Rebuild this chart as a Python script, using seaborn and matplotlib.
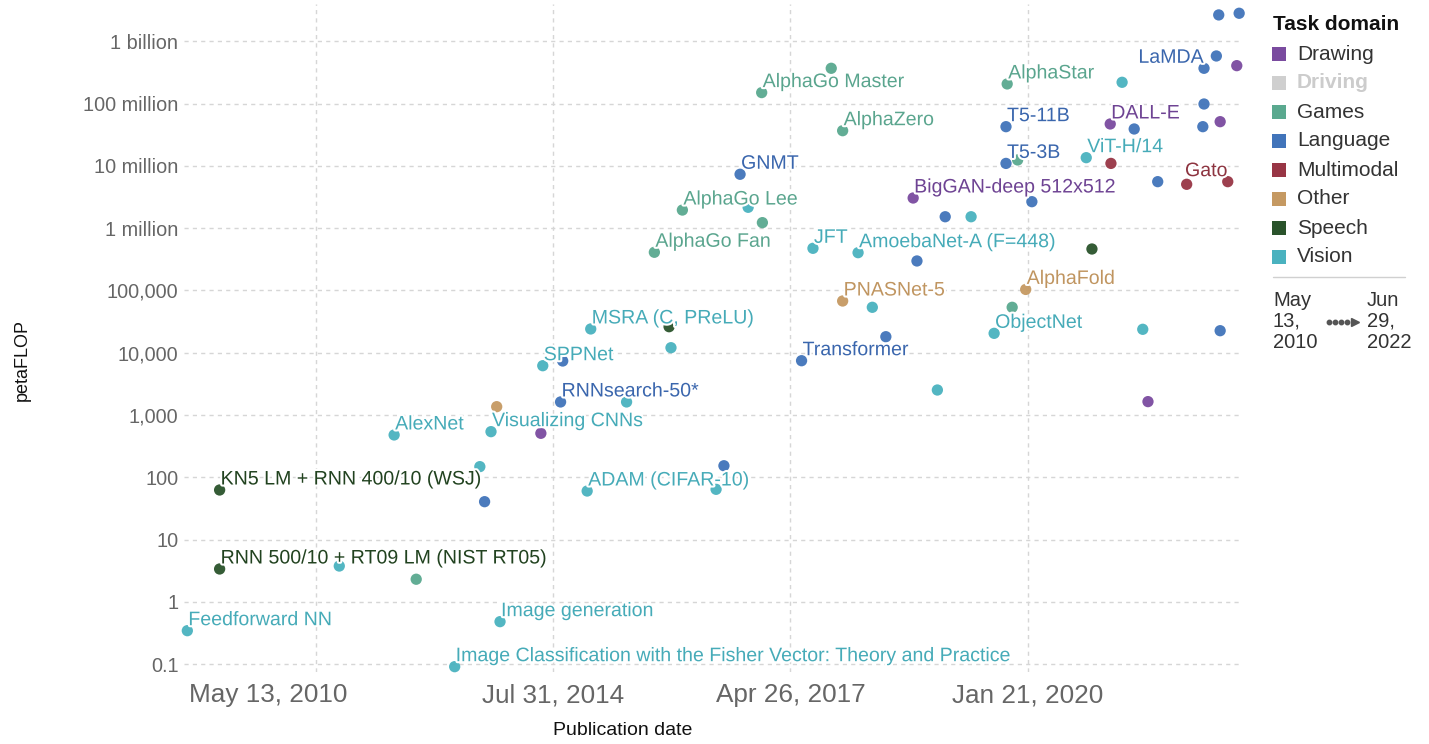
import numpy as np
import pandas as pd
import matplotlib
matplotlib.use("Agg")
import matplotlib.pyplot as plt
import matplotlib.patheffects as pe
from matplotlib.patches import Rectangle
from matplotlib.lines import Line2D
import seaborn as sns

sns.set_theme(style="white")
plt.rcParams["font.family"] = ["Liberation Sans", "DejaVu Sans"]

# ---- data: notable AI systems, training compute ----
dates = [
    "2010-05-13", "2010-09-26", "2010-09-26", "2012-02-12", "2012-09-30",
    "2013-01-01", "2013-06-12", "2013-09-26", "2013-10-16", "2013-11-12",
    "2013-12-06", "2013-12-20", "2014-06-10", "2014-06-18", "2014-09-01",
    "2014-09-10", "2014-12-22", "2015-01-06", "2015-06-06", "2015-10-01",
    "2015-12-02", "2015-12-10", "2016-01-27", "2016-06-17", "2016-07-20",
    "2016-09-26", "2016-10-30", "2016-12-26", "2016-12-29", "2017-06-12",
    "2017-07-30", "2017-10-15", "2017-12-02", "2017-12-02", "2018-02-05",
    "2018-04-06", "2018-06-02", "2018-09-25", "2018-10-11", "2019-01-05",
    "2019-02-07", "2019-05-27", "2019-09-01", "2019-10-21", "2019-10-21",
    "2019-10-26", "2019-11-16", "2019-12-09", "2020-01-12", "2020-02-07",
    "2020-09-23", "2020-10-17", "2021-01-02", "2021-01-05", "2021-02-21",
    "2021-04-13", "2021-05-19", "2021-06-10", "2021-07-21", "2021-11-20",
    "2022-01-27", "2022-02-01", "2022-02-01", "2022-03-25", "2022-04-04",
    "2022-04-10", "2022-04-10", "2022-05-12", "2022-06-19", "2022-06-29",
]
petaflop = [
    0.343, 62.4, 3.36, 3.75, 478,
    2.30, 0.0906, 148, 40.5, 540,
    1360, 0.479, 508, 6190, 1620,
    7370, 60.1, 24100, 1620, 4.11e5,
    26200, 12050, 1.96e6, 64, 153,
    7.36e6, 2.17e6, 1.51e8, 1.23e6, 7450,
    4.76e5, 3.71e8, 3.69e7, 67800, 4.05e5,
    53700, 18100, 3.06e6, 2.98e5, 2520,
    1.53e6, 1.53e6, 20500, 4.28e7, 1.10e7,
    2.08e8, 53700, 1.25e7, 1.04e5, 2.67e6,
    1.36e7, 4.64e5, 4.73e7, 1.10e7, 2.21e8,
    3.93e7, 23800, 1640, 5.60e6, 5.08e6,
    4.28e7, 3.71e8, 9.9e7, 5.85e8, 2.67e9,
    5.15e7, 22600, 5.60e6, 4.09e8, 2.84e9,
]
domain = [
    "Vision", "Speech", "Speech", "Vision", "Vision",
    "Games", "Vision", "Vision", "Language", "Vision",
    "Other", "Vision", "Drawing", "Vision", "Language",
    "Language", "Vision", "Vision", "Vision", "Games",
    "Speech", "Vision", "Games", "Vision", "Language",
    "Language", "Vision", "Games", "Games", "Language",
    "Vision", "Games", "Games", "Other", "Vision",
    "Vision", "Language", "Drawing", "Language", "Vision",
    "Language", "Vision", "Vision", "Language", "Language",
    "Games", "Games", "Games", "Other", "Language",
    "Vision", "Speech", "Drawing", "Multimodal", "Vision",
    "Language", "Vision", "Drawing", "Language", "Multimodal",
    "Language", "Language", "Language", "Language", "Language",
    "Drawing", "Language", "Multimodal", "Drawing", "Language",
]
system = [
    "Feedforward NN", "KN5 LM + RNN 400/10 (WSJ)", "RNN 500/10 + RT09 LM (NIST RT05)", "", "AlexNet",
    "", "Image Classification with the Fisher Vector: Theory and Practice", "", "", "Visualizing CNNs",
    "", "Image generation", "", "SPPNet", "RNNsearch-50*",
    "", "ADAM (CIFAR-10)", "MSRA (C, PReLU)", "", "AlphaGo Fan",
    "", "", "AlphaGo Lee", "", "",
    "GNMT", "", "AlphaGo Master", "", "Transformer",
    "JFT", "", "AlphaZero", "PNASNet-5", "AmoebaNet-A (F=448)",
    "", "", "BigGAN-deep 512x512", "", "",
    "", "", "ObjectNet", "T5-11B", "T5-3B",
    "AlphaStar", "", "", "AlphaFold", "",
    "ViT-H/14", "", "DALL-E", "", "",
    "", "", "", "", "",
    "", "LaMDA", "", "", "",
    "", "", "Gato", "", "",
]

domains = ["Drawing", "Driving", "Games", "Language", "Multimodal", "Other", "Speech", "Vision"]
palette = {
    "Drawing": "#7a4b9f",
    "Driving": "#cfcfcf",
    "Games": "#5aa98f",
    "Language": "#4174ba",
    "Multimodal": "#983545",
    "Other": "#c59962",
    "Speech": "#2a532b",
    "Vision": "#4ab2bf",
}
label_colors = {
    "Drawing": "#6e4393",
    "Driving": "#bbbbbb",
    "Games": "#5aa58e",
    "Language": "#3a66ad",
    "Multimodal": "#8d3440",
    "Other": "#c09560",
    "Speech": "#21421f",
    "Vision": "#46abb8",
}

y_ticks = [0.1, 1, 10, 100, 1e3, 1e4, 1e5, 1e6, 1e7, 1e8, 1e9]
y_tick_labels = ["0.1", "1", "10", "100", "1,000", "10,000", "100,000",
                 "1 million", "10 million", "100 million", "1 billion"]
x_ticks = ["2011-11-04", "2014-07-31", "2017-04-26", "2020-01-21"]
x_tick_labels = ["", "Jul 31, 2014", "Apr 26, 2017", "Jan 21, 2020"]
range_start = "May 13, 2010"
range_end = "Jun 29, 2022"

df = pd.DataFrame({
    "date": pd.to_datetime(dates),
    "petaflop": petaflop,
    "domain": domain,
    "system": system,
})

W, H = 1429, 744
fig = plt.figure(figsize=(W / 100, H / 100), dpi=100)
fig.patch.set_facecolor("white")
left, right, top, bottom = 184, 1242, 4, 672
ax = fig.add_axes([left / W, 1 - bottom / H, (right - left) / W, (bottom - top) / H])

sns.scatterplot(data=df, x="date", y="petaflop", hue="domain", hue_order=domains,
                palette=palette, s=66, linewidth=0, alpha=0.95, legend=False,
                ax=ax, zorder=3, clip_on=False)

ax.set_yscale("log")
ax.set_ylim(0.0744, 4.0e9)
ax.set_xlim(pd.Timestamp("2010-04-29"), pd.Timestamp("2022-07-11"))

ax.set_yticks(y_ticks)
ax.set_yticklabels(y_tick_labels)
ax.yaxis.set_minor_locator(matplotlib.ticker.NullLocator())
ax.set_xticks(pd.to_datetime(x_ticks))
ax.set_xticklabels(x_tick_labels)
ax.tick_params(axis="y", length=0, pad=4, labelsize=14.3, labelcolor="#666666")
ax.tick_params(axis="x", length=0, pad=8, labelsize=18.8, labelcolor="#666666")
ax.grid(True, color="#d6d6d6", linestyle=(0, (3, 3)), linewidth=1)
ax.set_axisbelow(True)
for sp in ax.spines.values():
    sp.set_visible(False)

# first date of the range, flush with the left edge of the plot
ax.text(pd.Timestamp(dates[0]), 0, range_start,
        transform=matplotlib.transforms.offset_copy(
            ax.get_xaxis_transform(), fig=fig, x=1, y=-8, units="points"),
        fontsize=18.8, color="#666666", ha="left", va="top")

ax.set_xlabel("Publication date", fontsize=14, color="#111111")
ax.xaxis.set_label_coords((623 - left) / (right - left), (bottom - 722) / (bottom - top))
ax.set_ylabel("petaFLOP", fontsize=13, color="#111111")
ax.yaxis.set_label_coords((22 - left) / (right - left), (bottom - 360) / (bottom - top))
ax.yaxis.label.set_verticalalignment("center")

# point labels, placed just above each labelled system
halo = [pe.withStroke(linewidth=3, foreground="white")]
late = pd.Timestamp("2022-01-01")
for _, r in df[df["system"] != ""].iterrows():
    right_side = r["date"] >= late
    ax.annotate(r["system"], (r["date"], r["petaflop"]),
                xytext=(0 if right_side else 1, 11), textcoords="offset pixels",
                ha="right" if right_side else "left", va="center",
                fontsize=14.1, color=label_colors[r["domain"]],
                path_effects=halo, zorder=4, annotation_clip=False)

# legend: task domains
fig.text(1273 / W, 1 - 25 / H, "Task domain", fontsize=15, fontweight="bold",
         color="#111111", ha="left", va="center")
for i, d in enumerate(domains):
    yc = 54 + 29 * i
    fig.patches.append(Rectangle((1272 / W, 1 - (yc + 7) / H), 14 / W, 14 / H,
                                 transform=fig.transFigure, color=palette[d], lw=0))
    fig.text(1297 / W, 1 - yc / H, d, fontsize=15,
             color="#cccccc" if d == "Driving" else "#333333",
             fontweight="bold" if d == "Driving" else "normal",
             ha="left", va="center")

fig.add_artist(Line2D([1273 / W, 1405 / W], [1 - 277 / H, 1 - 277 / H],
                      transform=fig.transFigure, color="#d0d0d0", lw=1))

# legend: date range of the timeline
for j, (a, b) in enumerate(zip(range_start.split(" "), range_end.split(" "))):
    yc = 1 - (300 + 21 * j) / H
    fig.text(1273 / W, yc, a, fontsize=14.5, color="#333333", ha="left", va="center")
    fig.text(1367 / W, yc, b, fontsize=14.5, color="#333333", ha="left", va="center")
ya = 1 - 322 / H
fig.add_artist(Line2D([1329 / W, 1335 / W, 1341 / W, 1347 / W], [ya] * 4,
                      transform=fig.transFigure, ls="none", marker="o", ms=3.2,
                      color="#555555"))
fig.add_artist(Line2D([1355 / W], [ya], transform=fig.transFigure, ls="none",
                      marker=">", ms=6, color="#555555"))

fig.savefig("out.png", dpi=100, facecolor="white")
